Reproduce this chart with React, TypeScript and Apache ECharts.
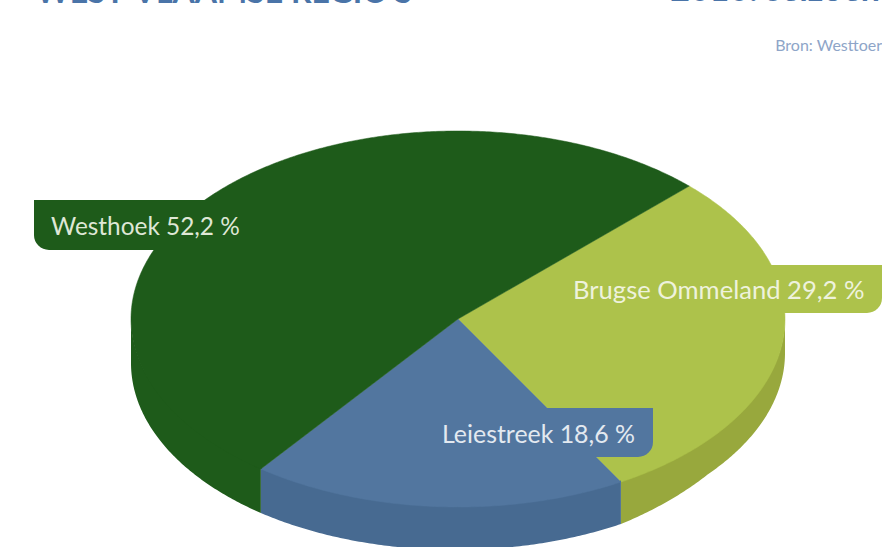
import React, { useEffect, useRef } from "react";
import * as echarts from "echarts";

const categories = ["Brugse Ommeland", "Leiestreek", "Westhoek"];
const shares = [29.2, 18.6, 52.2];
const topColors = ["#adc24b", "#52769f", "#1e5b1a"];
const sideColors = ["#98a83d", "#476a91", "#1e5b1a"];
const titleLeft = "WEST-VLAAMSE REGIO'S";
const titleRight = "2010: seizoen";
const sourceNote = "Bron: Westtoer";

const W = 882;
const H = 547;
const CX = 458;
const CY = 319;
const RX = 327;
const RY = 188;
const START_DEG = -45;
// thickness of the disc's rim by angle: the source drawing is not quite regular
const rimAngles = [0, 40, 60, 127, 180];
const rimDepths = [34, 34, 42, 44, 44];

const rimDepth = (deg: number): number => {
  for (let i = 1; i < rimAngles.length; i++) {
    if (deg <= rimAngles[i]) {
      const f = (deg - rimAngles[i - 1]) / (rimAngles[i] - rimAngles[i - 1]);
      return rimDepths[i - 1] + (rimDepths[i] - rimDepths[i - 1]) * f;
    }
  }
  return rimDepths[rimDepths.length - 1];
};

const pt = (deg: number, dy = 0): number[] => {
  const t = (deg * Math.PI) / 180;
  return [CX + RX * Math.cos(t), CY + dy + RY * Math.sin(t)];
};

const angleSteps = (a: number, b: number): number[] => {
  const out: number[] = [];
  const n = Math.max(2, Math.ceil(Math.abs(b - a) * 2));
  for (let i = 0; i <= n; i++) out.push(a + ((b - a) * i) / n);
  return out;
};

const cumulativeBefore = (idx: number): number => {
  let s = 0;
  for (let i = 0; i < idx; i++) s += shares[i];
  return s;
};

const total = shares.reduce((a, b) => a + b, 0);

const renderSlice = (params: any, api: any) => {
  const i = params.dataIndex;
  const value = api.value(0);
  const a0 = START_DEG + (cumulativeBefore(i) / total) * 360;
  const a1 = a0 + (value / total) * 360;
  const children: any[] = [];
  const sa = Math.max(a0, 0);
  const sb = Math.min(a1, 180);
  if (sb > sa) {
    const top = angleSteps(sa, sb).map((d) => pt(d, -1.5));
    const bottom = angleSteps(sb, sa).map((d) => pt(d, rimDepth(d)));
    children.push({
      type: "polygon",
      shape: { points: [...top, ...bottom] },
      style: { fill: sideColors[i] },
    });
  }
  children.push({
    type: "polygon",
    shape: { points: [[CX, CY], ...angleSteps(a0, a1).map((d) => pt(d))] },
    style: { fill: topColors[i], stroke: topColors[i], lineWidth: 0.5 },
  });
  return { type: "group", children };
};

const labelText = (i: number) =>
  `${categories[i]} ${shares[i].toFixed(1).replace(".", ",")} %`;

const labelFont = 'Lato, "Open Sans", sans-serif';

const App = () => {
  const ref = useRef<HTMLDivElement>(null);
  useEffect(() => {
    if (!ref.current) return;
    const chart = echarts.init(ref.current, undefined, { renderer: "svg" });
    const text = (s: string, x: number, y: number, fill: string, size: number, align = "left", extra: any = {}) => ({
      type: "text",
      z: 110,
      x,
      y,
      style: { text: s, fill, fontSize: size, fontFamily: labelFont, align, verticalAlign: "middle", ...extra },
    });
    chart.setOption({
      animation: false,
      backgroundColor: "#ffffff",
      series: [
        {
          type: "custom",
          coordinateSystem: "none",
          silent: true,
          data: shares.map((v) => [v]),
          renderItem: renderSlice,
        },
      ],
      graphic: [
        { type: "rect", z: 100, shape: { x: 34, y: 200, width: 185, height: 50, r: [0, 0, 0, 15] }, style: { fill: topColors[2] } },
        { type: "rect", z: 100, shape: { x: 600, y: 265, width: 282, height: 48, r: [0, 0, 15, 0] }, style: { fill: topColors[0] } },
        { type: "rect", z: 100, shape: { x: 600, y: 408, width: 53, height: 49, r: [0, 0, 15, 0] }, style: { fill: topColors[1] } },
        { type: "polygon", z: 100, shape: { points: [[535, 408], [601, 408], [601, 457], [590, 457]] }, style: { fill: topColors[1] } },
        text(labelText(2), 51, 225, "#dfe7d6", 24.4),
        text(labelText(0), 573, 289, "#eef2dc", 25.6),
        text(labelText(1), 442, 433, "#e3e9f0", 24.9),
        text(titleLeft, 36, -10, "#4a74a8", 32, "left", { fontWeight: "bold" }),
        text(titleRight, 880, -13, "#4a74a8", 34, "right", { fontWeight: "bold" }),
        text(sourceNote, 882, 44, "#8ea5c8", 16, "right"),
      ],
    });
    return () => chart.dispose();
  }, []);
  return <div ref={ref} style={{ position: "fixed", left: 0, top: 0, width: W, height: H }} />;
};

export default App;
